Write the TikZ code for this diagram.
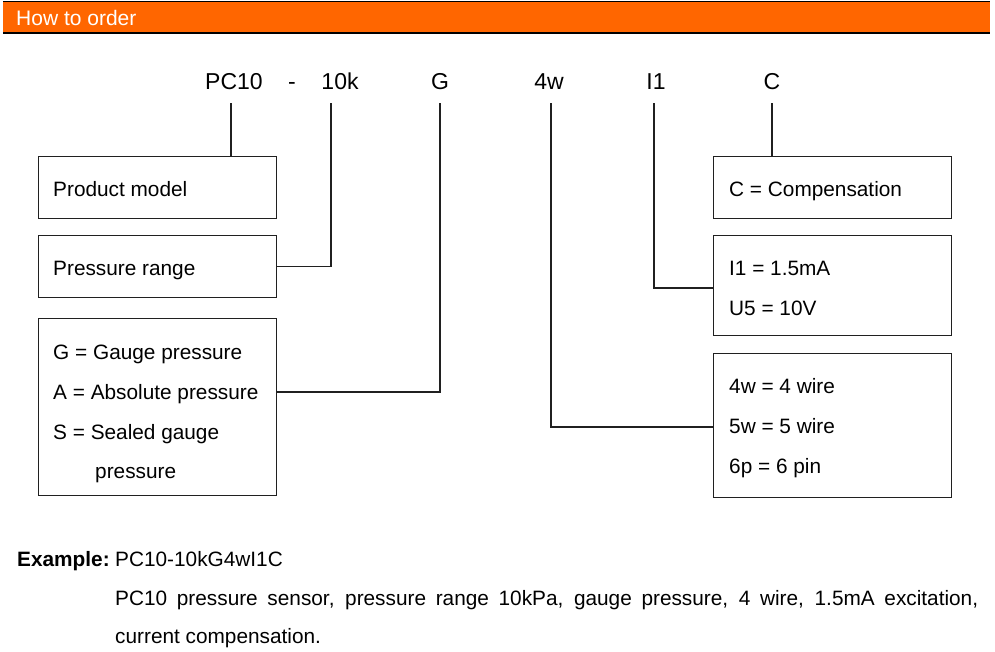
\documentclass[tikz,border=0pt]{standalone}
\usepackage{fontspec}
\setmainfont{Liberation Sans}
\definecolor{hdr}{HTML}{FF6600}
\definecolor{ln}{HTML}{202020}
\begin{document}
\begin{tikzpicture}[x=1pt,y=-1pt,
  box/.style={draw=ln, line width=1.4pt, rectangle, inner sep=0pt, minimum width=238pt, anchor=north west},
  code/.style={anchor=base, inner sep=0pt, font=\fontsize{23}{26}\selectfont},
  btext/.style={anchor=base west, inner sep=0pt, font=\fontsize{20.8}{24}\selectfont},
  etext/.style={anchor=base west, inner sep=0pt, font=\fontsize{20.8}{24}\selectfont},
  conn/.style={draw=ln, line width=1.3pt}]
\useasboundingbox (0,0) rectangle (995,651);
% header
\fill[hdr] (3,1) rectangle (990,33);
\draw[black, line width=1pt] (3,1) -- (990,1);
\draw[black, line width=1.8pt] (3,33) -- (990,33);
\node[anchor=base west, inner sep=0pt, text=white, font=\fontsize{21}{24}\selectfont] (hdrtxt) at (16,25) {How to order};
% codes
\node[code] (cPC) at (234,89) {PC10};
\node[code] (cdash) at (292,89) {-};
\node[code] (c10k) at (340,89) {10k};
\node[code] (cG) at (440,89) {G};
\node[code] (c4w) at (549,89) {4w};
\node[code] (cI1) at (656,89) {I1};
\node[code] (cC) at (772,89) {C};
\coordinate (tPC) at (231,103);
\coordinate (t10k) at (331,103);
\coordinate (tG) at (440,103);
\coordinate (t4w) at (551,103);
\coordinate (tI1) at (654,103);
\coordinate (tC) at (772,103);
% left boxes
\node[box, minimum height=62pt] (model) at (38,156) {};
\node[box, minimum height=62pt] (range) at (38,235) {};
\node[box, minimum height=177pt] (gbox) at (38,318) {};
% right boxes
\node[box, minimum height=62pt] (cbox) at (713,156) {};
\node[box, minimum height=100pt] (ibox) at (713,235) {};
\node[box, minimum height=144pt] (wbox) at (713,353) {};
% texts
\node[btext] (tmodel) at (53,196) {Product model};
\node[btext] (trange) at (53,275) {Pressure range};
\node[btext] (tg1) at (53,359) {G = Gauge pressure};
\node[btext] (tg2) at (53,399) {A = Absolute pressure};
\node[btext] (tg3) at (53,439) {S = Sealed gauge};
\node[btext] (tg4) at (95,478) {pressure};
\node[btext] (tc) at (729,196) {C = Compensation};
\node[btext] (ti1) at (729,275) {I1 = 1.5mA};
\node[btext] (ti2) at (729,315) {U5 = 10V};
\node[btext] (tw1) at (729,393) {4w = 4 wire};
\node[btext] (tw2) at (729,433) {5w = 5 wire};
\node[btext] (tw3) at (729,473) {6p = 6 pin};
% connectors
\coordinate (gin) at (276,392);
\coordinate (iin) at (713,288);
\coordinate (win) at (713,427);
\draw[conn] (tPC) -- (tPC |- model.north);
\draw[conn] (t10k) |- (range.east);
\draw[conn] (tG) |- (gin);
\draw[conn] (t4w) |- (win);
\draw[conn] (tI1) |- (iin);
\draw[conn] (tC) -- (tC |- cbox.north);
% example
\node[etext] (exlbl) at (17,566) {\textbf{Example:}};
\node[etext] (excode) at (115,566) {PC10-10kG4wI1C};
\node[etext] (exl1) at (115,605) {\makebox[863pt][s]{PC10 pressure sensor, pressure range 10kPa, gauge pressure, 4 wire, 1.5mA excitation,}};
\node[etext] (exl2) at (115,643) {current compensation.};
\end{tikzpicture}
\end{document}
